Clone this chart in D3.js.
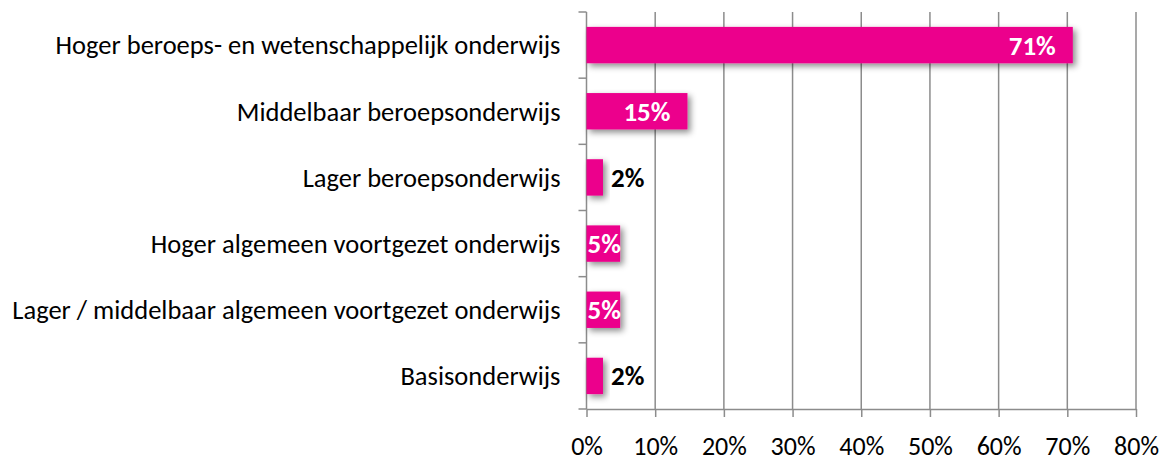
<!DOCTYPE html>
<html>
<head>
<meta charset="utf-8">
<script src="https://cdn.jsdelivr.net/npm/d3@7"></script>
<style>
  body { margin: 0; background: #fff; }
  text { font-family: Carlito, Calibri, Lato, sans-serif; }
</style>
</head>
<body>
<script>
//data
var categories = [
  "Hoger beroeps- en wetenschappelijk onderwijs",
  "Middelbaar beroepsonderwijs",
  "Lager beroepsonderwijs",
  "Hoger algemeen voortgezet onderwijs",
  "Lager / middelbaar algemeen voortgezet onderwijs",
  "Basisonderwijs"
];
var values = [70.8, 14.7, 2.4, 4.9, 4.9, 2.4];
var valueLabels = ["71%", "15%", "2%", "5%", "5%", "2%"];
var xTicks = [0, 10, 20, 30, 40, 50, 60, 70, 80];

//layout
var width = 1169;
var height = 462;
var plotLeft = 586.5, plotRight = 1136, plotTop = 12, plotBottom = 409;
var pink = "#ec008c";
var grid = "#8c8c8c";
var catFont = 26.5;
var tickFont = 26;
var valueFont = 27;

var svg = d3.select("body").append("svg")
    .attr("width", width)
    .attr("height", height);

//shadow filter
var filter = svg.append("defs").append("filter")
    .attr("id", "shadow")
    .attr("x", "-20%").attr("y", "-40%")
    .attr("width", "160%").attr("height", "200%");
filter.append("feDropShadow")
    .attr("dx", 3).attr("dy", 3)
    .attr("stdDeviation", 3)
    .attr("flood-color", "#000")
    .attr("flood-opacity", 0.45);

var x = d3.scaleLinear().domain([0, 80]).range([plotLeft, plotRight]);
var y = d3.scaleBand().domain(categories).range([plotTop, plotBottom]).paddingInner(0.45).paddingOuter(0.225);

//gridlines
svg.append("g").selectAll("line")
    .data(xTicks.slice(1))
    .enter().append("line")
    .attr("x1", function (d) { return x(d) }).attr("x2", function (d) { return x(d) })
    .attr("y1", plotTop).attr("y2", plotBottom)
    .attr("stroke", grid).attr("stroke-width", 1.5);

//x axis
var xAxis = svg.append("g")
    .attr("transform", "translate(0," + plotBottom + ")")
    .call(d3.axisBottom(x).tickValues(xTicks).tickFormat(function (d) { return d + "%" }).tickSizeInner(8).tickSizeOuter(0).tickPadding(20));
xAxis.select(".domain").attr("stroke", grid).attr("stroke-width", 1.5);
xAxis.selectAll(".tick line").attr("stroke", grid).attr("stroke-width", 1.5);
xAxis.selectAll("text").attr("font-size", tickFont).attr("fill", "#000")
    .style("font-family", "Carlito, Calibri, Lato, sans-serif");

//y axis: ticks on category boundaries
var yb = d3.scaleLinear().domain([0, categories.length]).range([plotTop, plotBottom]);
var yg = svg.append("g");
yg.append("line")
    .attr("x1", plotLeft).attr("x2", plotLeft).attr("y1", plotTop).attr("y2", plotBottom)
    .attr("stroke", grid).attr("stroke-width", 1.5);
yg.selectAll(".yt")
    .data(d3.range(categories.length + 1))
    .enter().append("line")
    .attr("x1", plotLeft - 8).attr("x2", plotLeft)
    .attr("y1", function (d) { return yb(d) }).attr("y2", function (d) { return yb(d) })
    .attr("stroke", grid).attr("stroke-width", 1.5);

//category labels
svg.append("g").selectAll("text")
    .data(categories)
    .enter().append("text")
    .attr("x", plotLeft - 26)
    .attr("y", function (d) { return y(d) + y.bandwidth() / 2 })
    .attr("dy", "0.35em")
    .attr("text-anchor", "end")
    .attr("font-size", catFont)
    .text(function (d) { return d });

//bars
svg.append("g").selectAll("rect")
    .data(values)
    .enter().append("rect")
    .attr("x", x(0))
    .attr("y", function (d, i) { return y(categories[i]) })
    .attr("width", function (d) { return x(d) - x(0) })
    .attr("height", y.bandwidth())
    .attr("fill", pink)
    .attr("filter", "url(#shadow)");

//value labels
svg.append("g").selectAll("text")
    .data(values)
    .enter().append("text")
    .attr("y", function (d, i) { return y(categories[i]) + y.bandwidth() / 2 })
    .attr("dy", "0.35em")
    .attr("font-size", valueFont)
    .attr("font-weight", "bold")
    .each(function (d, i) {
        var t = d3.select(this).text(valueLabels[i]);
        if (d >= 10) {
            t.attr("x", x(d) - 17).attr("text-anchor", "end").attr("fill", "#fff");
        } else if (d >= 4) {
            t.attr("x", x(0) + 1).attr("text-anchor", "start").attr("fill", "#fff");
        } else {
            t.attr("x", x(d) + 8).attr("text-anchor", "start").attr("fill", "#000");
        }
    });
</script>
</body>
</html>
